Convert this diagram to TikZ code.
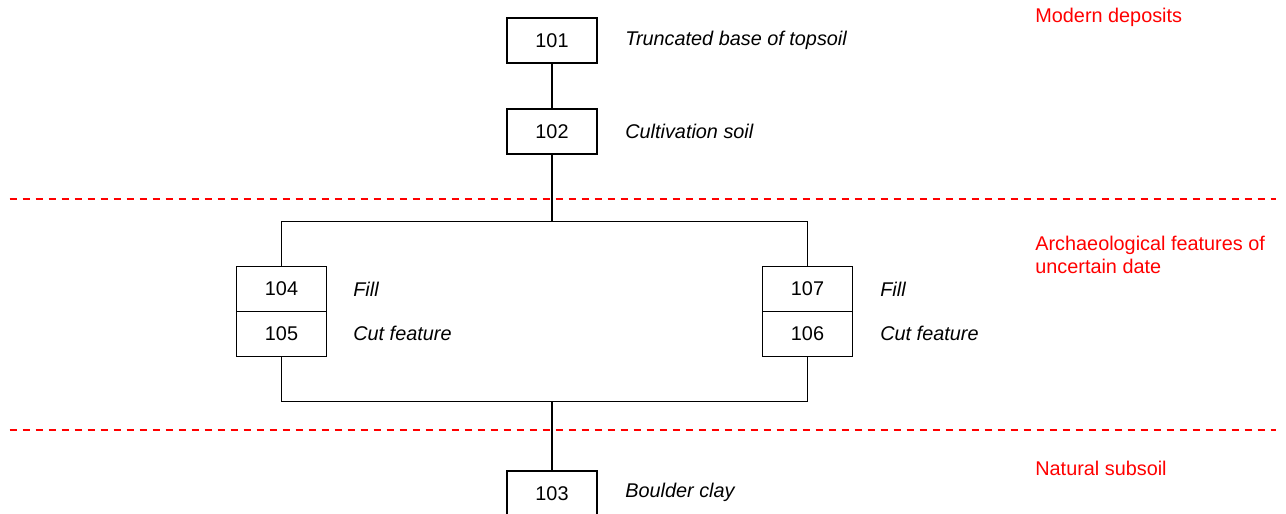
\documentclass[tikz,border=0pt]{standalone}
\usepackage{fontspec}
\setmainfont{Liberation Sans}
\usetikzlibrary{positioning}
\definecolor{PhaseRed}{HTML}{FF0000}
\definecolor{LineBlack}{HTML}{000000}

\begin{document}
\begin{tikzpicture}[
    x=0.02cm,y=-0.02cm,
    font=\fontsize{11.3}{13}\selectfont,
    ctx/.style={draw=LineBlack,line width=0.85pt,minimum width=1.8cm,minimum height=0.9cm,inner sep=0pt,outer sep=0pt},
    desc/.style={anchor=west,inner sep=0pt,font=\fontsize{11.3}{13}\selectfont\itshape},
    phase/.style={anchor=west,inner sep=0pt,align=left,text=PhaseRed},
    link/.style={LineBlack,line width=0.85pt},
    divide/.style={PhaseRed,line width=1pt,dash pattern=on 4pt off 3.4pt}
  ]
    \useasboundingbox (0,0) rectangle (1286,514);

    % phase boundaries
    \draw[divide] (9.5,199) -- (1276,199);
    \draw[divide] (9.5,430) -- (1276,430);
    \node[phase] (p1) at (1035,17) {Modern deposits};
    \node[phase] (p2) at (1035,254.5) {Archaeological features of\\uncertain date};
    \node[phase] (p3) at (1035,468) {Natural subsoil};

    % contexts
    \node[ctx] (c101) at (552,40.5) {101};
    \node[ctx] (c102) at (552,131.5) {102};
    \node[ctx] (c104) at (281.5,289) {104};
    \node[ctx,below=0pt of c104] (c105) {105};
    \node[ctx] (c107) at (807.5,289) {107};
    \node[ctx,below=0pt of c107] (c106) {106};
    \node[ctx] (c103) at (552,493.5) {103};

    \node[desc] (d101) at (625,40.5) {Truncated base of topsoil};
    \node[desc] (d102) at (625,131.5) {Cultivation soil};
    \node[desc] (d104) at (353,289) {Fill};
    \node[desc] (d105) at (353,333) {Cut feature};
    \node[desc] (d107) at (880,289) {Fill};
    \node[desc] (d106) at (880,333) {Cut feature};
    \node[desc] (d103) at (625,492.5) {Boulder clay};

    % stratigraphic links
    \coordinate (split) at (552,221.5);
    \coordinate (merge) at (552,401.5);
    \draw[link] (c101) -- (c102);
    \draw[link] (c102) -- (split);
    \draw[link] (c104.north) |- (split) -| (c107.north);
    \draw[link] (c105.south) |- (merge) -| (c106.south);
    \draw[link] (merge) -- (c103);
  \end{tikzpicture}
\end{document}
